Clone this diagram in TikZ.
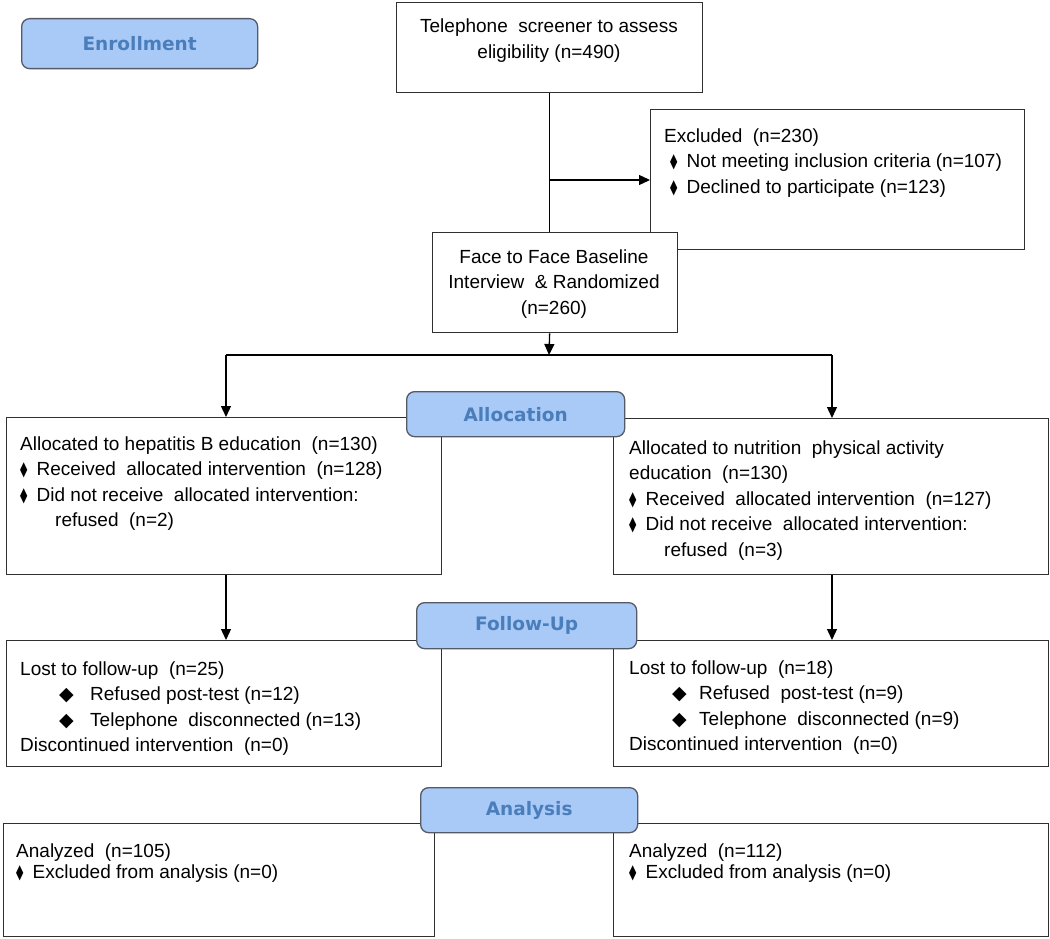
\documentclass[tikz,border=0pt]{standalone}
\usepackage{graphicx}
\usepackage{fontspec}
\setmainfont{Liberation Sans}
\newfontfamily\djv{DejaVu Sans}
\usetikzlibrary{arrows.meta}
\definecolor{hfill}{HTML}{A9C9F7}
\definecolor{hdraw}{HTML}{555A66}
\definecolor{htext}{HTML}{4A7EBB}
\definecolor{bdraw}{HTML}{303030}
\newcommand{\dmd}{\makebox[16.5pt][l]{\djv\scalebox{0.5}[1.05]{◆}}}
\newcommand{\bigdmd}[1]{\makebox[#1][l]{\djv ◆}}
\tikzset{
  box/.style={draw=bdraw, line width=1.3pt, fill=white, anchor=north west, inner sep=0pt},
  hdrbox/.style={draw=hdraw, line width=1.3pt, fill=hfill, rounded corners=8pt, anchor=north west, inner sep=0pt,
     text=htext, font=\djv\bfseries\fontsize{18.5}{20}\selectfont},
  txt/.style={anchor=north west, inner sep=0pt, align=left, text=black, font=\fontsize{19}{25.5}\selectfont},
  ctxt/.style={anchor=center, inner sep=0pt, align=center, text=black, font=\fontsize{19}{25.5}\selectfont},
  conn/.style={draw=black, line width=1.3pt},
  arr/.style={conn, -{Triangle[length=11pt,width=10pt]}},
}
\begin{document}
\begin{tikzpicture}[x=1pt,y=-1pt]
\useasboundingbox (0,0) rectangle (1050,939);
\fill[white] (0,0) rectangle (1050,939);
% boxes
\node[box, minimum width=306pt, minimum height=90pt] (tel) at (396,2) {};
\node[box, minimum width=374pt, minimum height=140pt] (exc) at (650,109) {};
\node[box, minimum width=245pt, minimum height=100pt] (face) at (432,232) {};
\node[box, minimum width=435pt, minimum height=157pt] (la) at (6,417) {};
\node[box, minimum width=435pt, minimum height=156pt] (ra) at (613,418) {};
\node[box, minimum width=435pt, minimum height=126pt] (lf) at (6,640) {};
\node[box, minimum width=435pt, minimum height=126pt] (rf) at (613,640) {};
\node[box, minimum width=431pt, minimum height=113pt] (ln) at (3,823) {};
\node[box, minimum width=435pt, minimum height=113pt] (rn) at (613,823) {};
% header boxes
\node[hdrbox, minimum width=236pt, minimum height=50pt] (enr) at (21,18) {Enrollment};
\node[hdrbox, minimum width=218pt, minimum height=45pt] (alloc) at (406,391) {Allocation};
\node[hdrbox, minimum width=220pt, minimum height=46pt] (fu) at (416,602) {Follow-Up};
\node[hdrbox, minimum width=217pt, minimum height=45pt] (an) at (420,787) {Analysis};
% texts
\node[ctxt] (teltxt) at (549,40.5) {Telephone~ screener to assess\\eligibility (n=490)};
\node[txt] (exctxt) at (664,124) {\strut Excluded~ (n=230)\\
  \hspace*{6pt}\dmd Not meeting inclusion criteria (n=107)\\
  \hspace*{6pt}\dmd Declined to participate (n=123)};
\node[ctxt] (facetxt) at (554,284) {Face to Face Baseline\\Interview~ \& Randomized\\(n=260)};
\node[txt] (latxt) at (20,432) {\strut Allocated to hepatitis B education~ (n=130)\\
  \dmd Received~ allocated intervention~ (n=128)\\
  \dmd Did not receive~ allocated intervention:\\
  \hspace*{35pt}refused~ (n=2)};
\node[txt] (ratxt) at (629,436) {\strut Allocated to nutrition~ physical activity\\
  education~ (n=130)\\
  \dmd Received~ allocated intervention~ (n=127)\\
  \dmd Did not receive~ allocated intervention:\\
  \hspace*{35pt}refused~ (n=3)};
\node[txt] (lftxt) at (20,657) {\strut Lost to follow-up~ (n=25)\\
  \hspace*{39pt}\bigdmd{31pt}Refused post-test (n=12)\\
  \hspace*{39pt}\bigdmd{31pt}Telephone~ disconnected (n=13)\\
  Discontinued intervention~ (n=0)};
\node[txt] (rftxt) at (629,656) {\strut Lost to follow-up~ (n=18)\\
  \hspace*{43pt}\bigdmd{27pt}Refused~ post-test (n=9)\\
  \hspace*{43pt}\bigdmd{27pt}Telephone~ disconnected (n=9)\\
  Discontinued intervention~ (n=0)};
\node[txt] (lntxt) at (16,839) {\strut Analyzed~ (n=105)\\[-4.5pt]
  \dmd Excluded from analysis (n=0)};
\node[txt] (rntxt) at (629,839) {\strut Analyzed~ (n=112)\\[-4.5pt]
  \dmd Excluded from analysis (n=0)};
% connectors
\coordinate (branch) at (549,180);
\coordinate (split) at (549,355);
\coordinate (lsplit) at (226,355);
\coordinate (rsplit) at (832,355);
\draw[conn] (tel.south) -- (tel.south |- face.north);
\draw[arr] (branch) -- (branch -| exc.west);
\draw[arr] (tel.south |- face.south) -- (split);
\draw[conn] (lsplit) -- (rsplit);
\draw[arr] (lsplit) -- (lsplit |- la.north);
\draw[arr] (rsplit) -- (rsplit |- ra.north);
\draw[arr] (lsplit |- la.south) -- (lsplit |- lf.north);
\draw[arr] (rsplit |- ra.south) -- (rsplit |- rf.north);
\end{tikzpicture}
\end{document}
